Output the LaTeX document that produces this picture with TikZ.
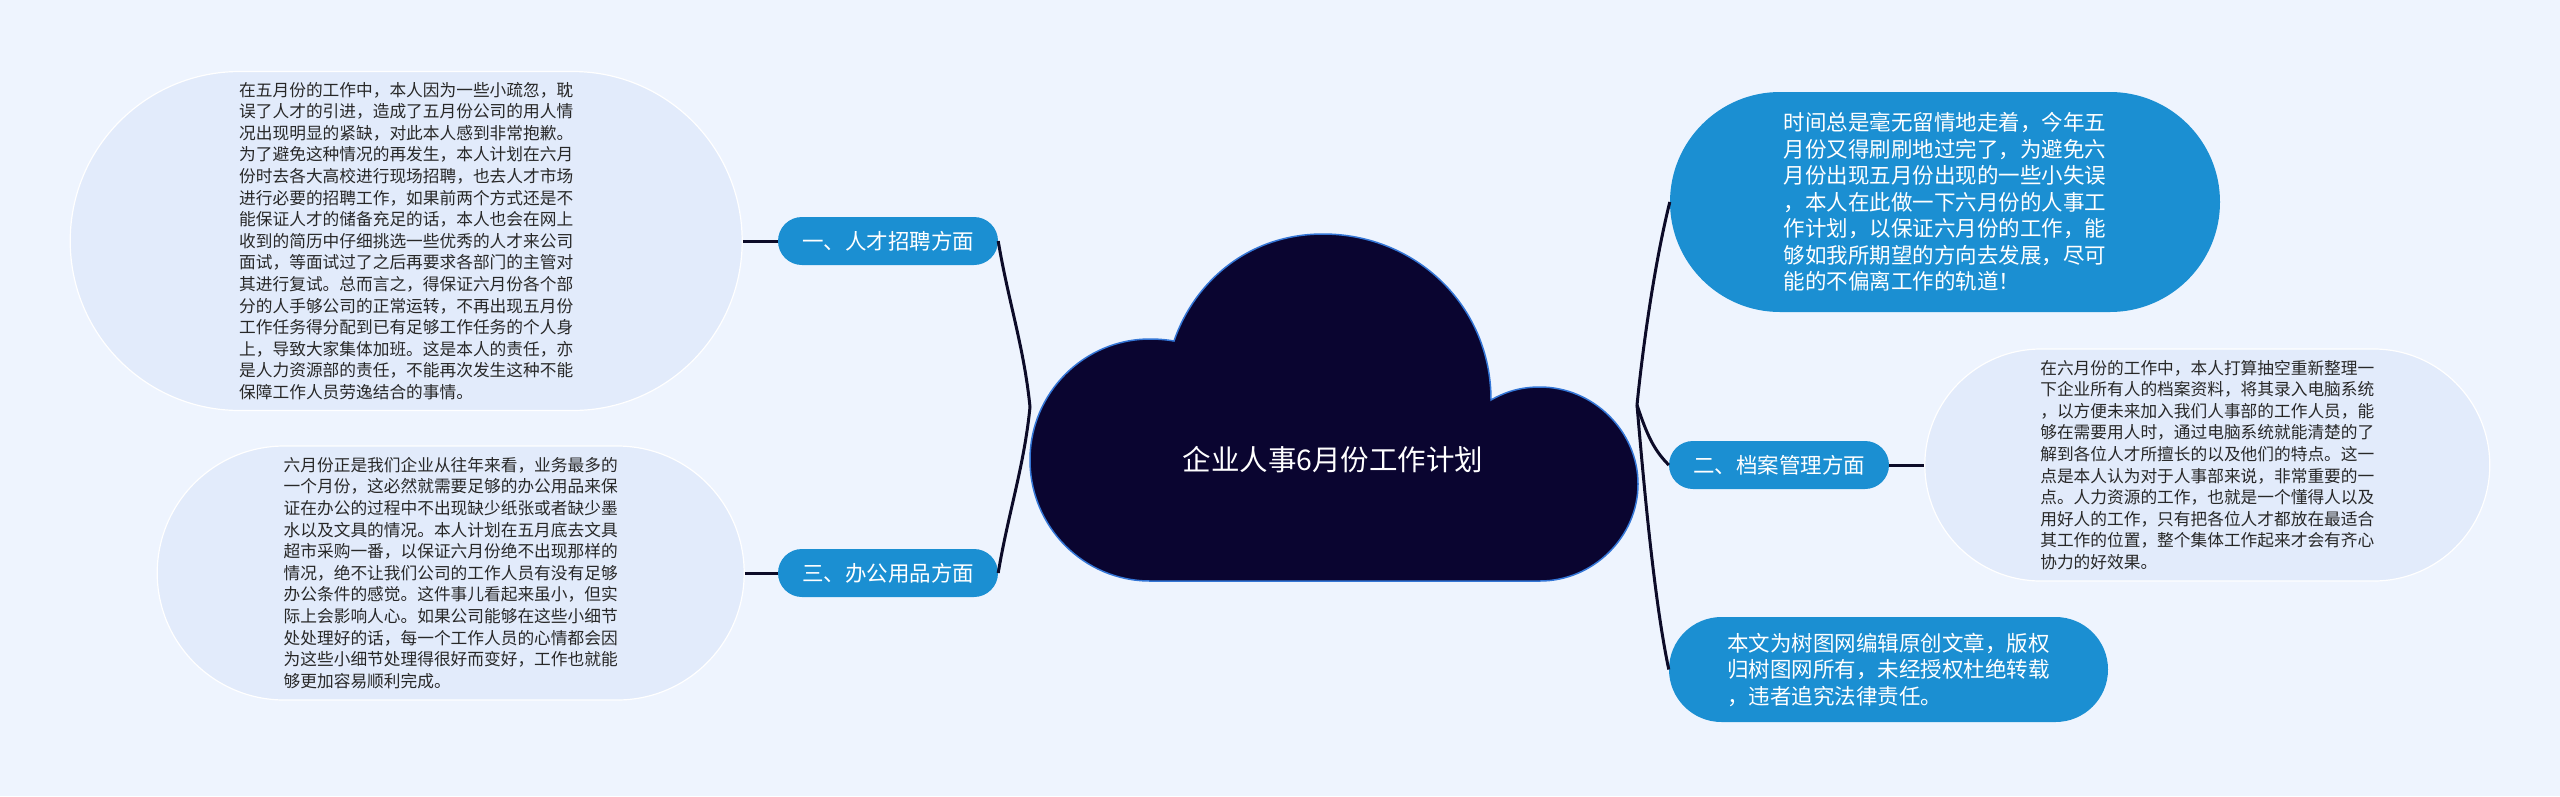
\documentclass[tikz,border=0pt]{standalone}
\usepackage{fontspec}
\setmainfont{Noto Sans CJK SC}
\usetikzlibrary{positioning}
\definecolor{cBg}{RGB}{238,244,254}
\definecolor{cBlob}{RGB}{226,235,251}
\definecolor{cBlue}{RGB}{27,143,210}
\definecolor{cCloud}{RGB}{10,5,48}
\definecolor{cEdge}{RGB}{52,118,214}
\definecolor{cLink}{RGB}{12,11,40}
\definecolor{cText}{RGB}{40,40,40}

\tikzset{
  pill/.style 2 args={rectangle, inner sep=0pt, minimum width=#1pt,
    minimum height=#2pt, rounded corners=#2pt/2},
  blob/.style={fill=cBlob, draw=white, line width=1.2pt, text=cText,
    align=left, font=\fontsize{16.7}{21.6}\selectfont},
  bluebox/.style={fill=cBlue, text=white, align=left,
    font=\fontsize{21.5}{26.5}\selectfont},
  link/.style={draw=cLink, line width=3pt},
}

\begin{document}
\begin{tikzpicture}[x=1pt,y=-1pt]
  % backdrop
  \fill[cBg] (0,0) rectangle (2560,796);
  % cloud
  \filldraw[fill=cCloud,draw=cEdge,line width=1.5pt]
    (1150,581) .. controls (1084,581) and (1030,527) .. (1030,460)
    .. controls (1030,393) and (1084,339) .. (1150,339)
    .. controls (1160,339) and (1168,340) .. (1174,341)
    .. controls (1195,280) and (1250,234) .. (1323,234)
    .. controls (1415,234) and (1491,305) .. (1491,400)
    .. controls (1505,392) and (1520,387) .. (1540,387)
    .. controls (1593,387) and (1638,431) .. (1638,484)
    .. controls (1638,537) and (1593,581) .. (1540,581)
    -- cycle;
  \node[text=white,font=\fontsize{28.5}{34}\selectfont] (title) at (1333,460) {企业人事6月份工作计划};

  % left branches
  \node[pill={220}{48},bluebox] (recruit) at (888,241) {一、人才招聘方面};
  \node[pill={220}{48},bluebox] (supply) at (888,573) {三、办公用品方面};
  \node[pill={672}{339},blob,left=35pt of recruit] (recruitTxt) {在五月份的工作中，本人因为一些小疏忽，耽\\
误了人才的引进，造成了五月份公司的用人情\\
况出现明显的紧缺，对此本人感到非常抱歉。\\
为了避免这种情况的再发生，本人计划在六月\\
份时去各大高校进行现场招聘，也去人才市场\\
进行必要的招聘工作，如果前两个方式还是不\\
能保证人才的储备充足的话，本人也会在网上\\
收到的简历中仔细挑选一些优秀的人才来公司\\
面试，等面试过了之后再要求各部门的主管对\\
其进行复试。总而言之，得保证六月份各个部\\
分的人手够公司的正常运转，不再出现五月份\\
工作任务得分配到已有足够工作任务的个人身\\
上，导致大家集体加班。这是本人的责任，亦\\
是人力资源部的责任，不能再次发生这种不能\\
保障工作人员劳逸结合的事情。};
  \node[pill={587}{254},blob,left=33pt of supply] (supplyTxt) {六月份正是我们企业从往年来看，业务最多的\\
一个月份，这必然就需要足够的办公用品来保\\
证在办公的过程中不出现缺少纸张或者缺少墨\\
水以及文具的情况。本人计划在五月底去文具\\
超市采购一番，以保证六月份绝不出现那样的\\
情况，绝不让我们公司的工作人员有没有足够\\
办公条件的感觉。这件事儿看起来虽小，但实\\
际上会影响人心。如果公司能够在这些小细节\\
处处理好的话，每一个工作人员的心情都会因\\
为这些小细节处理得很好而变好，工作也就能\\
够更加容易顺利完成。};

  % right branches
  \node[pill={550}{220},bluebox] (intro) at (1945,202) {时间总是毫无留情地走着，今年五\\
月份又得刷刷地过完了，为避免六\\
月份出现五月份出现的一些小失误\\
，本人在此做一下六月份的人事工\\
作计划，以保证六月份的工作，能\\
够如我所期望的方向去发展，尽可\\
能的不偏离工作的轨道！};
  \node[pill={220}{48},bluebox] (archive) at (1779,465) {二、档案管理方面};
  \node[pill={565}{232},blob,right=35pt of archive] (archiveTxt) {在六月份的工作中，本人打算抽空重新整理一\\
下企业所有人的档案资料，将其录入电脑系统\\
，以方便未来加入我们人事部的工作人员，能\\
够在需要用人时，通过电脑系统就能清楚的了\\
解到各位人才所擅长的以及他们的特点。这一\\
点是本人认为对于人事部来说，非常重要的一\\
点。人力资源的工作，也就是一个懂得人以及\\
用好人的工作，只有把各位人才都放在最适合\\
其工作的位置，整个集体工作起来才会有齐心\\
协力的好效果。};
  \node[pill={439}{105},bluebox] (note) at (1888.5,669.5) {本文为树图网编辑原创文章，版权\\
归树图网所有，未经授权杜绝转载\\
，违者追究法律责任。};

  % connectors
  \coordinate (jl) at (1030,407);
  \coordinate (jr) at (1637,405);
  \draw[link] (jl) .. controls +(-6,-60) and +(10,60) .. (recruit.east);
  \draw[link] (jl) .. controls +(-6,60) and +(10,-60) .. (supply.east);
  \draw[link] (jr) .. controls +(6,-60) and +(-15,60) .. (intro.west);
  \draw[link] (jr) .. controls +(10,30) and +(-15,-15) .. (archive.west);
  \draw[link] (jr) .. controls +(6,70) and +(-15,-70) .. (note.west);
  \draw[link] (recruitTxt.east) -- (recruit.west);
  \draw[link] (supplyTxt.east) -- (supply.west);
  \draw[link] (archive.east) -- (archiveTxt.west);
\end{tikzpicture}
\end{document}
